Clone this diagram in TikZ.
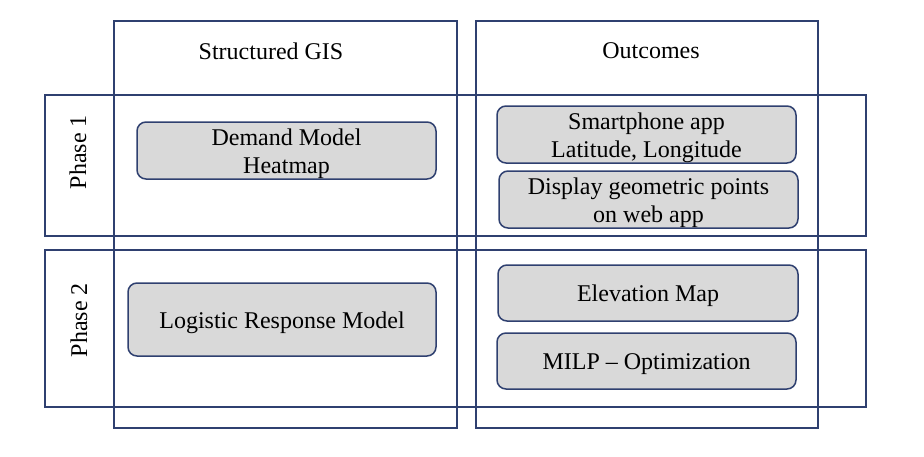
\documentclass[tikz,border=0pt]{standalone}
\usepackage{fontspec}
\setmainfont{Liberation Serif}
\definecolor{framecol}{RGB}{47,64,112}
\definecolor{boxfill}{RGB}{217,217,217}
\begin{document}
\begin{tikzpicture}[x=1pt,y=-1pt]
        \tikzstyle{every node}= [font=\fontsize{24}{28}\selectfont,align=center,inner sep=0pt];
        \tikzstyle{stage}= [draw=framecol,line width=1.5pt,fill=boxfill,rounded corners=9pt,minimum width=299pt,minimum height=57pt];
        \tikzstyle{oneline}= [text height=23pt];
        \tikzstyle{twoline}= [text height=51pt];
        \useasboundingbox (0,0) rectangle (924,456);
        % columns
        \draw[framecol,line width=1.3pt] (114,21) rectangle (457,428);
        \draw[framecol,line width=1.3pt] (476,21) rectangle (818,428);
        % rows
        \draw[framecol,line width=1.3pt] (45,95) rectangle (866,236);
        \draw[framecol,line width=1.3pt] (45,250) rectangle (866,407);

        \node(gis) at (271,51) {Structured GIS};
        \node(outcomes) at (651,51) {Outcomes};
        \node(phase1)[rotate=90] at (78,152) {Phase 1};
        \node(phase2)[rotate=90] at (79,320) {Phase 2};

        \node(demand)[stage,twoline] at (286.5,150.5) {Demand Model\\Heatmap};
        \node(phone)[stage,twoline] at (646.5,134.5) {Smartphone app\\Latitude, Longitude};
        \node(display)[stage,twoline] at (648.5,199.5) {Display geometric points\\on web app};
        \node(logistic)[stage,oneline,minimum width=308pt,minimum height=73pt] at (282,319.5) {Logistic Response Model};
        \node(elevation)[stage,oneline,minimum width=300pt,minimum height=56pt] at (648,293) {Elevation Map};
        \node(milp)[stage,oneline,minimum height=56pt] at (646.5,361) {MILP -- Optimization};
      \end{tikzpicture}
\end{document}
